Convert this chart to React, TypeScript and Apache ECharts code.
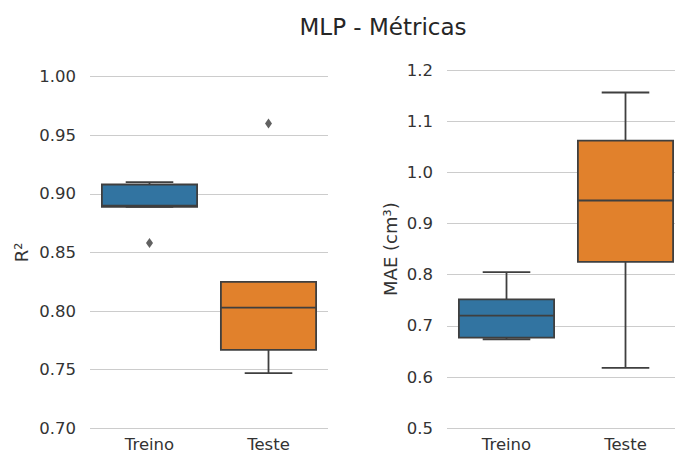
import React, { useEffect, useRef } from "react";
import * as echarts from "echarts";

const categories = ["Treino", "Teste"];
// [whiskerLow, Q1, median, Q3, whiskerHigh]
const r2Stats = [
  [0.889, 0.889, 0.890, 0.908, 0.910],
  [0.747, 0.767, 0.803, 0.825, 0.825],
];
const r2Outliers = [
  [0, 0.858],
  [1, 0.960],
];
const maeStats = [
  [0.674, 0.677, 0.720, 0.752, 0.805],
  [0.618, 0.825, 0.945, 1.062, 1.156],
];
const r2Ticks = { min: 0.7, max: 1.0, interval: 0.05 };
const maeTicks = { min: 0.5, max: 1.2, interval: 0.1 };
const boxColors = ["#3274a1", "#e1812c"];

const FONT = "DejaVu Sans";
const LINE = "#3f3f3f";

function renderBox(params: any, api: any) {
  const c = api.value(0);
  const lo = api.coord([c, api.value(1)]);
  const q1 = api.coord([c, api.value(2)]);
  const med = api.coord([c, api.value(3)]);
  const q3 = api.coord([c, api.value(4)]);
  const hi = api.coord([c, api.value(5)]);
  const band = api.size([1, 0])[0];
  const bw = band * 0.8;
  const cw = bw / 2;
  const x = lo[0];
  const ls = { stroke: LINE, lineWidth: 1.8, fill: "none" };
  return {
    type: "group",
    children: [
      { type: "line", shape: { x1: x, y1: q1[1], x2: x, y2: lo[1] }, style: ls },
      { type: "line", shape: { x1: x, y1: q3[1], x2: x, y2: hi[1] }, style: ls },
      { type: "line", shape: { x1: x - cw / 2, y1: lo[1], x2: x + cw / 2, y2: lo[1] }, style: ls },
      { type: "line", shape: { x1: x - cw / 2, y1: hi[1], x2: x + cw / 2, y2: hi[1] }, style: ls },
      {
        type: "rect",
        shape: { x: x - bw / 2, y: q3[1], width: bw, height: q1[1] - q3[1] },
        style: { fill: boxColors[c], stroke: LINE, lineWidth: 1.8 },
      },
      { type: "line", shape: { x1: x - bw / 2, y1: med[1], x2: x + bw / 2, y2: med[1] }, style: ls },
    ],
  };
}

export default function App() {
  const ref = useRef<HTMLDivElement>(null);
  useEffect(() => {
    if (!ref.current) return;
    const chart = echarts.init(ref.current, null, { renderer: "svg" });
    const yCommon = {
      type: "value",
      nameLocation: "middle",
      nameRotate: 90,
      nameTextStyle: { fontFamily: FONT, fontSize: 18, color: "#333" },
      axisLine: { show: false },
      axisTick: { show: false },
      splitLine: { show: true, lineStyle: { color: "#cccccc", width: 1.2 } },
      axisLabel: { fontFamily: FONT, fontSize: 16.5, color: "#333", margin: 14 },
    };
    const xCommon = {
      type: "category",
      data: categories,
      axisLine: { show: false },
      axisTick: { show: false },
      splitLine: { show: false },
      axisLabel: { fontFamily: FONT, fontSize: 16.5, lineHeight: 16, color: "#333", margin: 8 },
    };
    chart.setOption({
      animation: false,
      backgroundColor: "#ffffff",
      title: {
        text: "MLP - Métricas",
        left: 378,
        textAlign: "center",
        top: 10,
        textStyle: { fontFamily: FONT, fontSize: 23, fontWeight: "normal", color: "#262626" },
      },
      grid: [
        { left: 90, width: 238, top: 76.7, bottom: 25.7, containLabel: false, outerBoundsMode: "none" },
        { left: 447, width: 238, top: 70, bottom: 25.7, containLabel: false, outerBoundsMode: "none" },
      ],
      xAxis: [
        { ...xCommon, gridIndex: 0 },
        { ...xCommon, gridIndex: 1 },
      ],
      yAxis: [
        {
          ...yCommon,
          gridIndex: 0,
          name: "R²",
          nameGap: 60,
          min: r2Ticks.min,
          max: r2Ticks.max,
          interval: r2Ticks.interval,
          axisLabel: { ...yCommon.axisLabel, formatter: (v: number) => v.toFixed(2) },
        },
        {
          ...yCommon,
          gridIndex: 1,
          name: "MAE (cm³)",
          nameGap: 48,
          min: maeTicks.min,
          max: maeTicks.max,
          interval: maeTicks.interval,
          axisLabel: { ...yCommon.axisLabel, formatter: (v: number) => v.toFixed(1) },
        },
      ],
      series: [
        {
          type: "custom",
          xAxisIndex: 0,
          yAxisIndex: 0,
          renderItem: renderBox,
          encode: { x: 0, y: [1, 2, 3, 4, 5] },
          data: r2Stats.map((s, i) => [i, ...s]),
        },
        {
          type: "scatter",
          xAxisIndex: 0,
          yAxisIndex: 0,
          symbol: "diamond",
          symbolSize: [7, 10],
          itemStyle: { color: "#3a3a3a" },
          data: r2Outliers,
        },
        {
          type: "custom",
          xAxisIndex: 1,
          yAxisIndex: 1,
          renderItem: renderBox,
          encode: { x: 0, y: [1, 2, 3, 4, 5] },
          data: maeStats.map((s, i) => [i, ...s]),
        },
      ],
    });
    return () => chart.dispose();
  }, []);
  return <div ref={ref} style={{ width: 675, height: 454, position: "absolute", left: 0, top: 0 }} />;
}
